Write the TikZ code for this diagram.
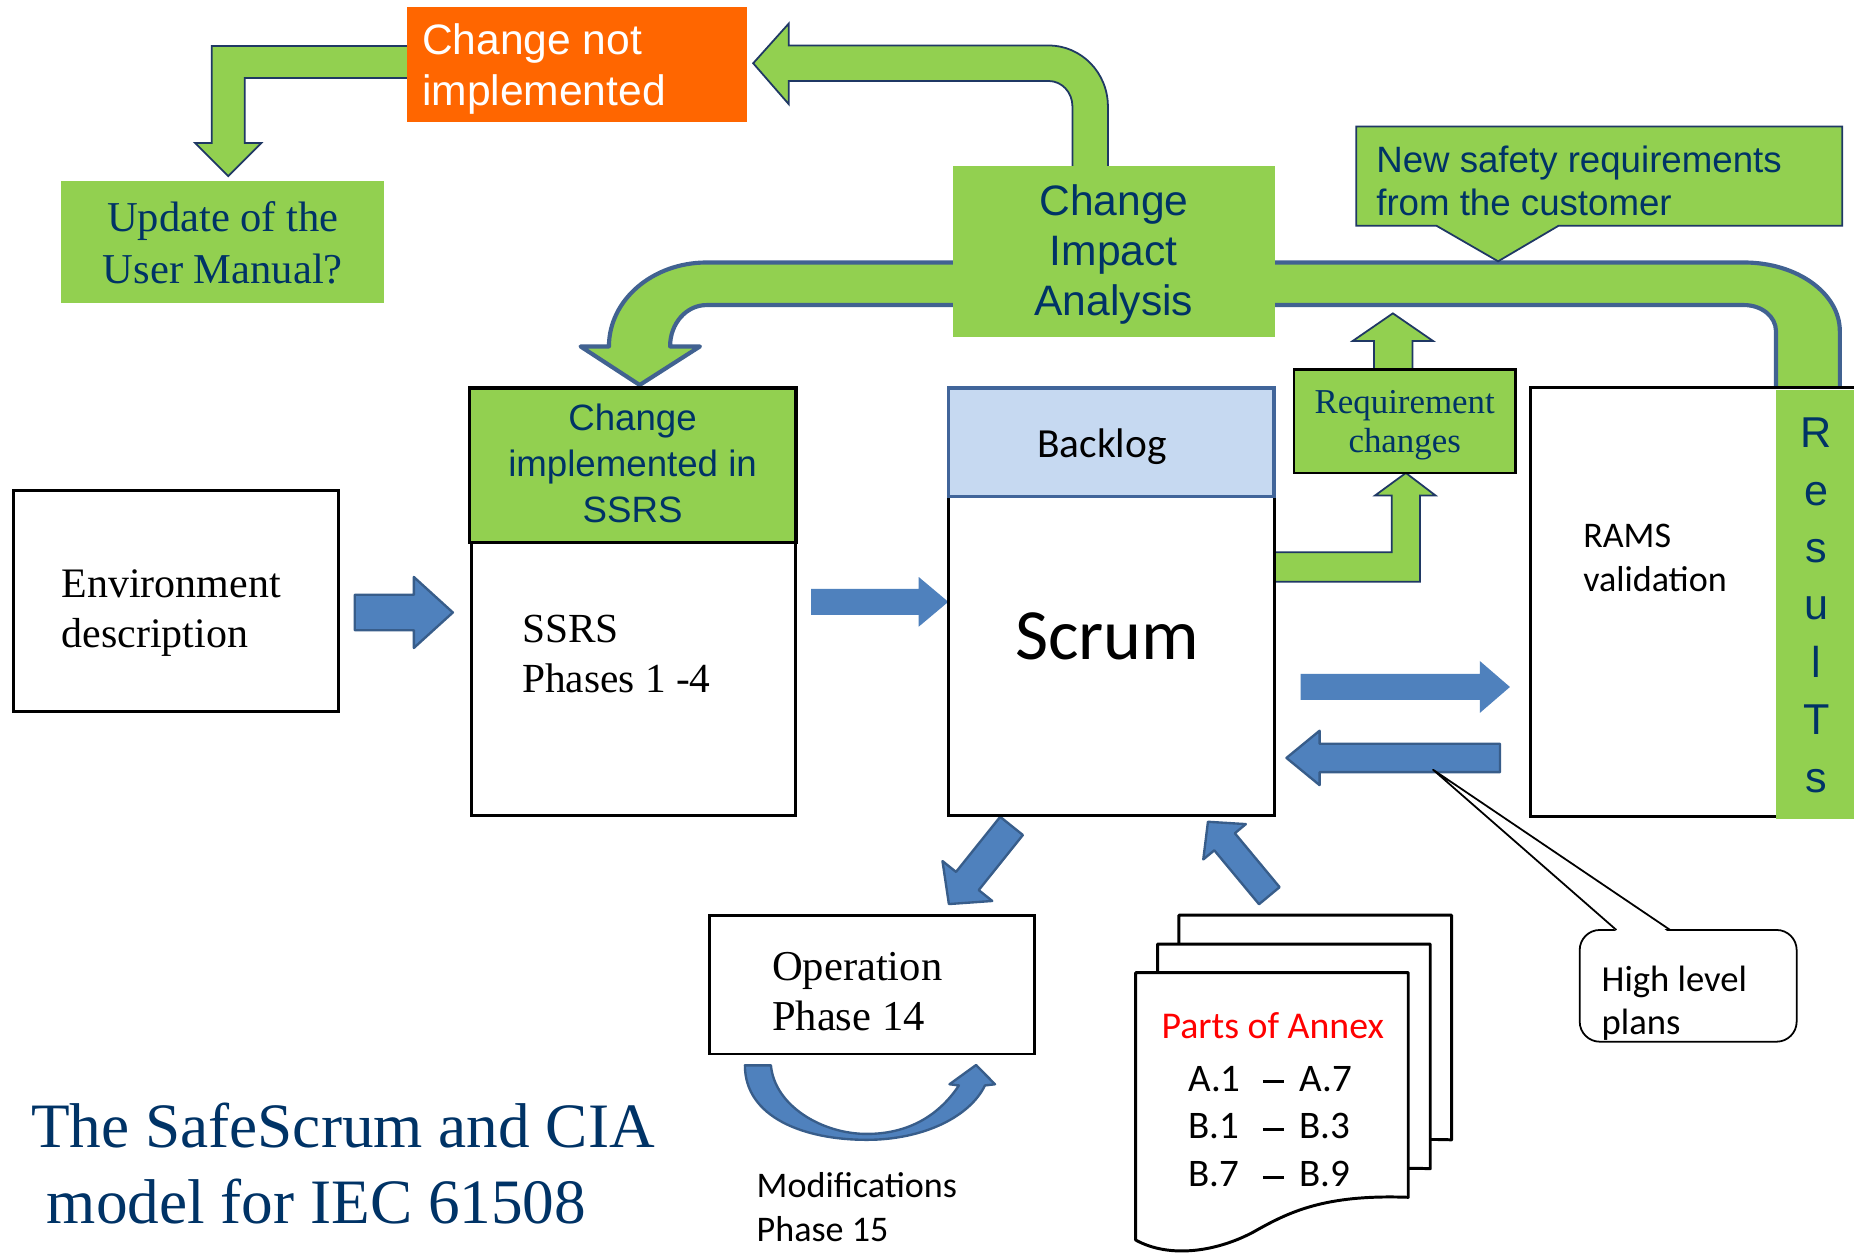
\documentclass[tikz,border=0pt]{standalone}
\usepackage{fontspec}
\setmainfont{Liberation Serif}
\newfontfamily\arialfont{Liberation Sans}
\newfontfamily\calfont{Carlito}
\usetikzlibrary{calc}

\definecolor{leaf}{RGB}{146,208,80}
\definecolor{navytext}{RGB}{0,51,102}
\definecolor{navyline}{RGB}{31,56,100}
\definecolor{bandline}{RGB}{65,98,145}
\definecolor{arrowblue}{RGB}{79,129,189}
\definecolor{arrowline}{RGB}{56,93,138}
\definecolor{backlogfill}{RGB}{198,217,241}
\definecolor{backlogline}{RGB}{65,101,154}
\definecolor{flame}{RGB}{255,102,0}

% font size in pt
\newcommand\setfs[1]{\fontsize{#1pt}{#1pt}\selectfont}
% stacked lines, baseline of the block = baseline of the first line
\newcommand\linesL[2]{\vtop{\baselineskip=#1\relax\halign{##\hfil\cr#2\crcr}}}
\newcommand\linesC[2]{\vtop{\baselineskip=#1\relax\halign{\hfil##\hfil\cr#2\crcr}}}
% range dash used in the annex list
\newcommand\rangedash{\rule[6.8pt]{18pt}{2.4pt}}

% straight block arrow: [style]{tail}{tip}{shaft half width}{head half width}{head length}
\newcommand\blockarrow[6][]{%
  \coordinate (ba-neck) at ($(#3)!#6!(#2)$);
  \path[#1] ($(#2)!#4!90:(#3)$) -- ($(ba-neck)!#4!90:(#3)$) -- ($(ba-neck)!#5!90:(#3)$)
    -- (#3) -- ($(ba-neck)!#5!-90:(#3)$) -- ($(ba-neck)!#4!-90:(#3)$)
    -- ($(#2)!#4!-90:(#3)$) -- cycle;}

\begin{document}
\begin{tikzpicture}[x=1pt,y=-1pt,
  txt/.style={inner sep=0pt, outer sep=0pt},
  whitebox/.style={draw=black, line width=2.5pt, fill=white, inner sep=0pt, outer sep=0pt, anchor=north west},
  flatbox/.style={inner sep=0pt, outer sep=0pt, anchor=north west},
  garrow/.style={fill=leaf, draw=navyline, line width=1.5pt, line join=miter},
  band/.style={fill=leaf, draw=bandline, line width=3.5pt, line join=round},
  barrow/.style={fill=arrowblue, draw=arrowline, line width=2pt, line join=round},
  bplain/.style={fill=arrowblue},
  page/.style={draw=black, line width=2.5pt, fill=white, line join=round}]

\useasboundingbox (0,0) rectangle (1568,1059);
\fill[white] (0,0) rectangle (1568,1059);

% wide bent band: CIA -> change implemented (left) and -> results (right)
\draw[band] (541,325.6) -- (491,293) -- (515,293)
  .. controls (515,253.6) and (552,222) .. (597.6,222) -- (1475,222)
  .. controls (1519.7,222) and (1556,248) .. (1556,280) -- (1556,333) -- (1502,333) -- (1502,280)
  .. controls (1502,267.8) and (1489.9,258) .. (1475,258) -- (597.6,258)
  .. controls (580.5,258) and (566.7,273.5) .. (566.7,293) -- (592,293) -- cycle;

% CIA -> change not implemented
\draw[garrow] (937,142) -- (937,90) .. controls (937,61.6) and (914.6,38.5) .. (887,38.5)
  -- (667,38.5) -- (667,20) -- (637,53.5) -- (667,88) -- (667,68.5) -- (887,68.5)
  .. controls (898,68.5) and (907,78.1) .. (907,90) -- (907,142) -- cycle;

% change not implemented -> user manual
\draw[garrow] (346,39) -- (179,39) -- (179,121) -- (165,121) -- (193,149) -- (221,121)
  -- (207,121) -- (207,66) -- (346,66) -- cycle;

\node[flatbox, fill=flame, minimum width=288pt, minimum height=97pt] (ncm) at (344,6) {};
\node[flatbox, fill=leaf, minimum width=273pt, minimum height=103pt] (upd) at (52,153) {};
\node[flatbox, fill=leaf, minimum width=272pt, minimum height=145pt] (cia) at (806,140) {};

% customer requirements callout
\draw[garrow] (1147,107) -- (1558,107) -- (1558,191) -- (1318,191) -- (1267,221) -- (1215,191)
  -- (1147,191) -- cycle;

% requirement changes -> band, scrum -> requirement changes
\draw[garrow] (1162,314) -- (1162,288.4) -- (1144,288.4) -- (1178,265) -- (1212,288.4)
  -- (1194.6,288.4) -- (1194.6,314) -- cycle;
\draw[garrow] (1076,467) -- (1177,467) -- (1177,419) -- (1163,419) -- (1189,400) -- (1214,419)
  -- (1201,419) -- (1201,492) -- (1076,492) -- cycle;

% blue block arrows
\blockarrow[barrow]{300,518}{383,518}{15pt}{30pt}{33pt}
\blockarrow[bplain]{686,509}{802,509}{11pt}{21pt}{25pt}
\blockarrow[bplain]{1100,581}{1277,581}{11pt}{22pt}{25.5pt}
\blockarrow[barrow]{1268.6,641}{1088,641}{12pt}{23pt}{28pt}
\blockarrow[barrow]{855.5,698.5}{802.5,764.6}{12.3pt}{27pt}{25pt}
\blockarrow[barrow]{1073.5,757.5}{1021.6,695}{11.3pt}{23.4pt}{22pt}

% modification loop under the operation box
\draw[barrow] (630,901) .. controls (630,945) and (680,964) .. (733,964)
  .. controls (780,964) and (820,945) .. (833,918) -- (841.5,917) -- (825.5,900.7) -- (803,917)
  -- (811,918) .. controls (795,942) and (770,959) .. (733,959)
  .. controls (695,959) and (655,935) .. (652,901) -- cycle;

% boxes
\node[whitebox, minimum width=274.6pt, minimum height=187.5pt] (env) at (11.4,414.5) {};
\node[whitebox, minimum width=274pt, minimum height=231pt] (ssrs) at (399,459) {};
\node[whitebox, fill=leaf, line width=3pt, minimum width=276pt, minimum height=131pt] (chg) at (397,328) {};
\node[whitebox, minimum width=275.6pt, minimum height=270pt] (scrum) at (802,420) {};
\node[whitebox, fill=backlogfill, draw=backlogline, line width=3pt, minimum width=275.6pt, minimum height=92pt] (backlog) at (802,328) {};
\node[whitebox, fill=leaf, line width=2pt, minimum width=187.2pt, minimum height=87.3pt] (req) at (1094.6,312.5) {};
\node[whitebox, minimum width=281pt, minimum height=362.7pt] (rams) at (1294,328) {};
\node[flatbox, fill=leaf, minimum width=67pt, minimum height=362.6pt] (results) at (1502,330) {};
\node[whitebox, minimum width=275pt, minimum height=117.4pt] (oper) at (600,774) {};

% stacked annex pages
\foreach \px/\py in {997/774, 979/798.4, 960.4/822.6}{
  \draw[page, shift={(\px,\py)}] (0,0) -- (230.6,0) -- (230.6,190)
    .. controls (159.6,187.4) and (129.6,202.4) .. (99.6,219.4)
    .. controls (69.6,235.4) and (29.6,242.4) .. (0,226.1) -- cycle;
}

% high level plans callout
\node[whitebox, line width=1.5pt, rounded corners=17pt, minimum width=183.5pt, minimum height=94.5pt] (hlp) at (1336,786.5) {};
\fill[white] (1368,788.5) -- (1212,651) -- (1411.5,788.5) -- cycle;
\draw[line width=1.5pt, line join=round] (1367,786.5) -- (1212,651) -- (1412.5,786.5);

% texts
\node[txt, anchor=base west, text=white, font=\arialfont\setfs{36}] (ncm-t) at (357,46.5)
  {\linesL{43pt}{Change not\cr implemented}};
\node[txt, anchor=base, text=navytext, font=\setfs{36}] (upd-t) at (188.5,196)
  {\linesC{44pt}{Update of the\cr User Manual?}};
\node[txt, anchor=base, text=navytext, font=\arialfont\setfs{36}] (cia-t) at (942,182)
  {\linesC{42.3pt}{Change\cr Impact\cr Analysis}};
\node[txt, anchor=base west, text=navytext, font=\arialfont\setfs{31}] (cust-t) at (1164,145.5)
  {\linesL{37pt}{New safety requirements\cr from the customer}};
\node[txt, anchor=base, text=navytext, font=\arialfont\setfs{31}] (chg-t) at (535,364.5)
  {\linesC{38.5pt}{Change\cr implemented in\cr SSRS}};
\node[txt, anchor=base west, font=\setfs{35.5}] (env-t) at (52,505)
  {\linesL{43pt}{Environment\cr description}};
\node[txt, anchor=base west, font=\setfs{35}] (ssrs-t) at (441.5,543.5)
  {\linesL{42.5pt}{SSRS\cr Phases 1 -4}};
\node[txt, anchor=base, font=\calfont\setfs{35}] (backlog-t) at (932,387) {Backlog};
\node[txt, anchor=base, font=\calfont\setfs{61}] (scrum-t) at (936.5,558) {Scrum};
\node[txt, anchor=base, text=navytext, font=\setfs{29.5}] (req-t) at (1188,349.7)
  {\linesC{33pt}{Requirement\cr changes}};
\node[txt, anchor=base west, font=\calfont\setfs{30.5}] (rams-t) at (1339,463)
  {\linesL{37pt}{RAMS\cr validation}};
\node[txt, anchor=base, text=navytext, font=\arialfont\setfs{36.5}] (results-t) at (1536,378.5)
  {\linesC{48.6pt}{R\cr e\cr s\cr u\cr l\cr T\cr s}};
\node[txt, anchor=base west, font=\calfont\setfs{31}] (hlp-t) at (1354.6,838.7)
  {\linesL{36pt}{High level\cr plans}};
\node[txt, anchor=base west, font=\setfs{36}] (oper-t) at (653,829.6)
  {\linesL{42pt}{Operation\cr Phase 14}};
\node[txt, anchor=base west, font=\calfont\setfs{30.5}] (mod-t) at (640,1012.6)
  {\linesL{37.5pt}{Modifications\cr Phase 15}};
\node[txt, anchor=base, text=red, font=\calfont\setfs{32}] (annex-h) at (1076.4,878) {Parts of Annex};
\node[txt, anchor=base west, font=\calfont\setfs{33}] (annex-t) at (1005,922.7)
  {\linesL{40.5pt}{\makebox[63pt][l]{A.1}\rangedash\kern13pt A.7\cr
                   \makebox[63pt][l]{B.1}\rangedash\kern13pt B.3\cr
                   \makebox[63pt][l]{B.7}\rangedash\kern13pt B.9}};
\node[txt, anchor=base west, text=navytext, font=\setfs{53.5}] (title) at (26.4,970.3)
  {\linesL{64.2pt}{The SafeScrum and CIA\cr\kern13.2pt model for IEC 61508}};
\end{tikzpicture}
\end{document}
